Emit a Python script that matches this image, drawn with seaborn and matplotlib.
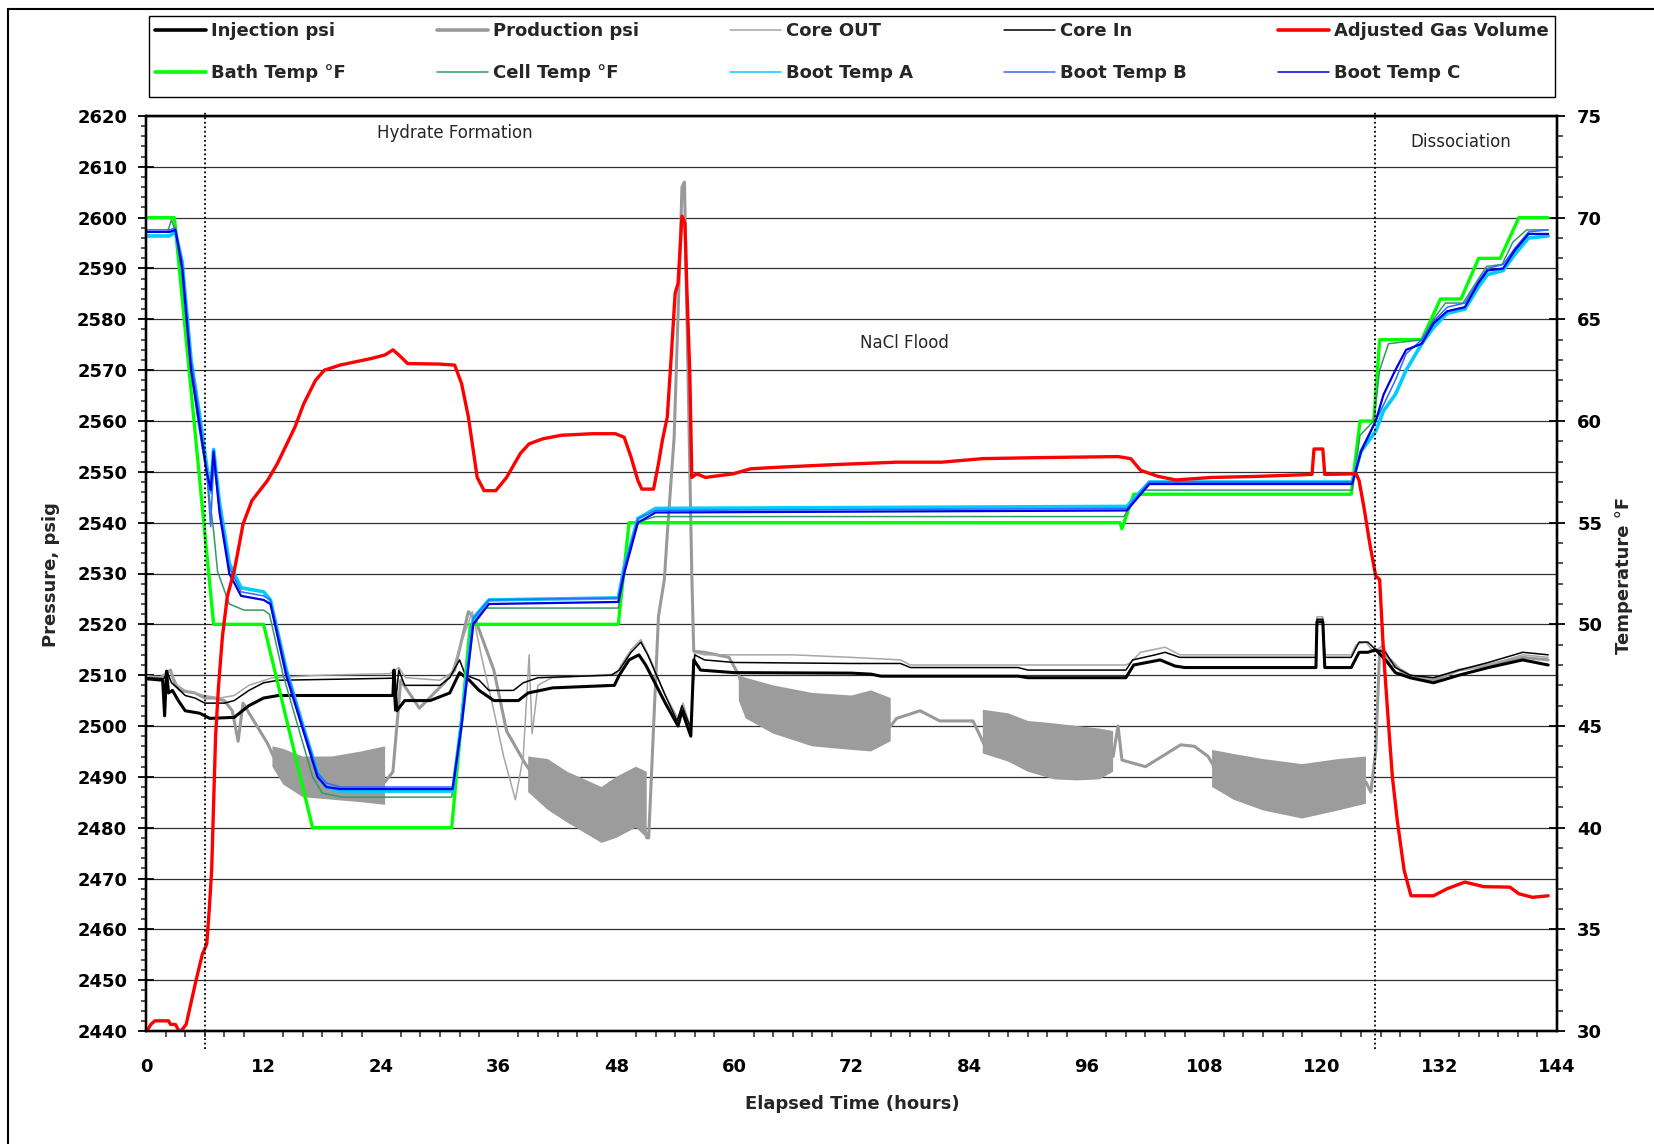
import numpy as np
import matplotlib
matplotlib.use("Agg")
import matplotlib.pyplot as plt
import seaborn as sns
from matplotlib.lines import Line2D
from matplotlib.patches import Rectangle
from matplotlib.ticker import MultipleLocator

# ---------------- data ----------------
# pressures in psig, temperatures in deg F, time in hours

inj_t = [0, 1.7, 1.9, 2.1, 2.3, 2.7, 3.3, 4, 5.5, 6.5, 9, 10.5, 12, 13.5, 25.2, 25.3, 25.6, 26.4, 29, 31,
         32, 33, 34, 35.5, 38, 39, 41.5, 47.8, 48.3, 49.3, 50.3, 51, 53, 54.3, 54.7, 55.6, 55.9, 56.6, 60,
         72, 74, 75, 89, 90, 100, 100.8, 103.5, 105, 106, 119.4, 119.5, 120.1, 120.3, 123, 123.8, 124.7,
         125.5, 126.5, 127.5, 129, 131.4, 134, 137, 140.5, 143.1]
inj_p = [2509.3, 2509, 2502, 2510.8, 2506.5, 2507, 2505, 2503, 2502.5, 2501.5, 2501.7, 2504, 2505.5, 2506,
         2506, 2511, 2503, 2505, 2505, 2506.5, 2510.5, 2509, 2507, 2505, 2505, 2506.5, 2507.5, 2508, 2510,
         2513, 2514, 2512, 2504.5, 2500, 2503, 2498, 2513, 2511, 2510.5, 2510.4, 2510.2, 2509.8, 2509.8,
         2509.5, 2509.5, 2512, 2513, 2511.8, 2511.5, 2511.5, 2520.5, 2520.5, 2511.5, 2511.5, 2514.5, 2514.5,
         2515, 2513, 2510.5, 2509.5, 2508.5, 2510, 2511.5, 2513, 2512]

prod_t = [0, 1.5, 2.5, 3.0, 3.5, 5, 6, 7, 8, 8.8, 9.4, 9.9, 11, 12.4, 13, 16, 20, 23, 24.4, 25.2, 26.0,
          27.9, 30.4, 31.5, 32.9, 33.6, 35.5, 36.8, 38.7, 40, 43, 46.5, 49, 50.7, 51.1, 51.3, 52.3, 52.9,
          53.2, 53.9, 54.3, 54.7, 54.95, 55.7, 55.9, 57, 59.5, 60.5, 61.2, 66, 72, 76, 76.6, 79, 81, 84.4,
          85.8, 88, 92.7, 97.3, 98.7, 99.2, 99.6, 102, 105.6, 107, 108.4, 109, 113, 118, 121.7, 124.5,
          125.0, 125.5, 125.9, 126.5, 127.5, 128.5, 131.4, 134, 137, 140.5, 143.1]
prod_p = [2509.7, 2509.5, 2511, 2508, 2507, 2506.5, 2505.5, 2505.5, 2505, 2503, 2497, 2504.5, 2501, 2496.6,
          2494, 2490, 2489.5, 2489, 2489, 2491, 2509, 2503.5, 2508.4, 2511, 2522.5, 2521, 2511, 2499,
          2492.6, 2489, 2485, 2481, 2482, 2482, 2478, 2478, 2521.6, 2528.8, 2537.8, 2556.8, 2581, 2606,
          2607, 2530, 2514.7, 2514.5, 2513.5, 2510, 2505.5, 2503, 2500.5, 2500, 2501.5, 2503, 2501, 2501,
          2495.3, 2497, 2494, 2493, 2494, 2500, 2493.3, 2492, 2496.3, 2496, 2494, 2492, 2489, 2487, 2488,
          2489, 2487, 2495, 2515, 2514, 2512, 2510, 2509, 2511, 2512, 2513.5, 2513]

# envelope of the oscillating production pressure (NaN separates the bursts)
osc_t = [12.9, 14, 16, 19, 22, 24.4, np.nan,
         39, 41, 43, 46.5, 48, 50, 51.1, np.nan,
         60.5, 61.2, 64, 68, 72, 74, 76, np.nan,
         85.4, 88, 90, 92.7, 95, 97.3, 98.7, np.nan,
         108.8, 111, 114, 118, 121.7, 124.5]
osc_hi = [2496, 2495.5, 2494, 2494, 2495, 2496, np.nan,
          2494, 2493.5, 2491, 2488, 2490, 2492, 2491, np.nan,
          2510, 2509.5, 2508, 2506.5, 2506, 2507, 2505.5, np.nan,
          2503.2, 2502.5, 2501, 2500.5, 2500, 2499.5, 2499, np.nan,
          2495.3, 2494.5, 2493.5, 2492.5, 2493.5, 2494]
osc_lo = [2492, 2488.5, 2486, 2485.5, 2485, 2484.5, np.nan,
          2487, 2483.5, 2481, 2477, 2478, 2480, 2478, np.nan,
          2505, 2501.5, 2498.5, 2496, 2495.3, 2495, 2497, np.nan,
          2494.6, 2493, 2491, 2489.5, 2489.3, 2489.5, 2491, np.nan,
          2488, 2485.5, 2483.4, 2481.8, 2483.4, 2484.7]

out_t = [0, 1.8, 2.5, 3.2, 4, 6, 7.5, 9, 10.5, 12.9, 18, 24.9, 25.8, 26.5, 30, 31.2, 32.3, 33.3, 34.2,
         35.5, 36.5, 37.7, 38.5, 39.1, 39.4, 40.0, 41.4, 48, 48.5, 49.5, 50.5, 51.5, 53, 54.3, 54.8, 55.6,
         56, 57, 60, 66, 72, 77, 78, 85, 100, 100.5, 101.5, 104, 105.5, 119.4, 119.5, 120.1, 120.3, 123,
         123.5, 124.5, 125.3, 126.3, 127, 128.3, 129.6, 131.4, 134, 137, 140.5, 143.1]
out_p = [2509.8, 2509.6, 2510.8, 2508, 2507, 2506, 2505.5, 2506, 2508, 2509.5, 2510, 2510.3, 2511.5, 2509.5,
         2509, 2510.5, 2517, 2522.5, 2514, 2503, 2494, 2485.5, 2494, 2514, 2498.5, 2508, 2509.5, 2510.2,
         2512, 2515, 2517, 2513, 2506, 2501.5, 2504.5, 2499.5, 2514.5, 2514, 2514, 2514, 2513.5, 2513, 2512,
         2512, 2512, 2512.5, 2514.5, 2515.5, 2514, 2514, 2521.5, 2521.5, 2514, 2514, 2516, 2516.5, 2514.5,
         2516, 2512, 2511, 2509.3, 2509.5, 2511, 2512, 2514, 2513.5]

in_t = [0, 1.8, 2.2, 2.6, 3.2, 4, 5, 6, 8, 9, 10.5, 12, 13.5, 25.2, 25.4, 25.8, 26.4, 30, 31, 32, 32.6, 34,
        35, 37.5, 38.5, 40, 47.5, 48.3, 49.5, 50.5, 51.2, 53, 54.2, 54.7, 55.6, 56, 57, 60, 72, 77, 78, 89,
        90, 100, 100.7, 103, 104, 105.5, 119.4, 119.5, 120.1, 120.3, 123, 123.8, 124.7, 125.5, 126.5, 127.5,
        129, 131.4, 134, 137, 140.5, 143.1]
in_p = [2509.5, 2509.3, 2510.5, 2508.5, 2507.5, 2506, 2505.5, 2504.5, 2504.5, 2505, 2507, 2508.5, 2509,
        2509.4, 2503, 2511, 2508, 2508, 2509.5, 2513, 2510, 2509, 2507, 2507, 2508.5, 2509.5, 2510, 2511,
        2514.5, 2516.5, 2514, 2506, 2501, 2504, 2499.5, 2514, 2513, 2512.5, 2512.3, 2512.3, 2511.5, 2511.5,
        2511, 2511, 2513, 2514, 2514.5, 2513.5, 2513.5, 2521, 2521, 2513.5, 2513.5, 2516.5, 2516.5, 2515,
        2514.5, 2511.5, 2510, 2509.5, 2511, 2512.5, 2514.5, 2514]

gas_t = [0, 0.5, 0.9, 2.3, 2.5, 3.0, 3.45, 4.1, 5.1, 5.75, 6.2, 6.45, 6.7, 6.9, 7.1, 7.4, 7.8, 8.3, 9.0,
         9.4, 9.9, 10.8, 12.4, 13.4, 15.2, 16.1, 17.3, 18.2, 19.8, 23.0, 24.4, 25.2, 25.8, 26.7, 29.9, 31.5,
         32.2, 32.9, 33.4, 33.8, 34.5, 35.7, 36.8, 38.2, 39.1, 40.5, 42.4, 45.6, 47.9, 48.8, 49.5, 50.2,
         50.6, 51.8, 52.3, 52.7, 53.2, 53.6, 54.0, 54.3, 54.7, 55.0, 55.2, 55.5, 55.7, 56.2, 57.1, 59.9,
         61.7, 64.5, 70.0, 76.6, 81.2, 85.4, 91.3, 99.2, 100.5, 101.5, 103.3, 105.1, 108.8, 113.4, 119.0,
         119.2, 120.1, 120.3, 123.5, 123.8, 124.3, 124.9, 125.5, 125.9, 126.3, 126.8, 127.2, 127.7, 128.4,
         129.1, 131.4, 132.8, 134.6, 136.5, 139.2, 140.1, 141.5, 143.1]
gas_v = [2439.7, 2441.3, 2442, 2442, 2441.3, 2441.3, 2439.7, 2441.3, 2449.9, 2455.1, 2457.1, 2463.7, 2471.6,
         2484.7, 2497.9, 2507.8, 2517.6, 2525.5, 2530.5, 2534.5, 2539.7, 2544.3, 2548.3, 2551.6, 2558.8,
         2563.4, 2568, 2570, 2571, 2572.3, 2573, 2574, 2573, 2571.3, 2571.2, 2571, 2567.4, 2560.8, 2554.2,
         2548.9, 2546.3, 2546.3, 2548.9, 2553.6, 2555.5, 2556.5, 2557.2, 2557.5, 2557.5, 2556.8, 2552.9,
         2548.3, 2546.6, 2546.6, 2551.6, 2556.2, 2560.8, 2572.6, 2585.1, 2587.1, 2600.3, 2598.9, 2585.8,
         2569.3, 2548.9, 2549.6, 2548.9, 2549.6, 2550.6, 2550.9, 2551.4, 2551.9, 2551.9, 2552.6, 2552.8,
         2553, 2552.6, 2550.3, 2549.1, 2548.4, 2548.9, 2549.1, 2549.5, 2554.5, 2554.5, 2549.5, 2549.6,
         2548.3, 2543, 2535.8, 2529.5, 2528.8, 2514.3, 2500.5, 2490, 2481.4, 2471.6, 2466.6, 2466.6, 2468,
         2469.3, 2468.4, 2468.3, 2467, 2466.3, 2466.6]

bath_t = [0, 2.9, 6.9, 12.0, 17.0, 31.2, 33.1, 48.2, 49.3, 99.4, 99.6, 100.8, 123.0, 123.9, 125.3, 125.9,
          130.2, 132.1, 134.2, 136.0, 138.2, 140.1, 143.1]
bath_T = [70, 70, 50, 50, 40, 40, 50, 50, 55, 55, 54.7, 56.4, 56.4, 60, 60, 64, 64, 66, 66, 68, 68, 70, 70]

cell_t = [0, 2.2, 2.6, 3.0, 3.6, 4.5, 5.3, 6.2, 6.9, 7.3, 8.5, 10, 12.0, 12.6, 14, 15.5, 17, 18, 20, 31.2,
          32.2, 33.2, 34.5, 48.2, 48.8, 50, 52, 99.8, 101.5, 123.1, 123.9, 125.3, 125.9, 126.8, 130.2,
          131.4, 132.6, 134.4, 136.0, 136.8, 138.4, 139.5, 140.9, 143.1]
cell_T = [69.3, 69.3, 69.9, 69.3, 67.5, 63, 60, 57.3, 54.6, 52.6, 51.0, 50.7, 50.7, 50.5, 47.5, 45, 42.5,
          41.7, 41.5, 41.5, 45, 50, 50.8, 50.8, 52.5, 55, 55.3, 55.3, 56.6, 56.6, 59.3, 60, 62.5, 63.8, 64.0,
          65, 65.8, 65.8, 67, 67.6, 67.7, 68.8, 69.4, 69.4]

boot_t = [0, 2.4, 3.0, 3.7, 4.6, 5.4, 6.2, 6.6, 6.9, 7.5, 8.5, 9.7, 12.0, 12.7, 14.3, 15.9, 17.5, 18.4,
          19.8, 31.3, 32.2, 33.4, 35.0, 48.2, 48.8, 50.2, 52.0, 100.1, 102.4, 123.1, 124.0, 125.5, 126.3,
          127.5, 128.6, 130.2, 131.4, 132.8, 134.6, 136.0, 136.9, 138.5, 139.7, 141.1, 143.1]
bootA_T = [69.1, 69.1, 69.3, 67.8, 63, 60.5, 57.8, 56.5, 58.6, 56, 53, 51.8, 51.6, 51.2, 47.8, 45.2, 42.7,
           42.0, 41.8, 41.8, 45.2, 50.3, 51.2, 51.3, 52.8, 55.2, 55.7, 55.8, 57.0, 57.0, 58.5, 59.5, 60.5,
           61.3, 62.5, 63.8, 64.6, 65.3, 65.5, 66.6, 67.2, 67.4, 68.2, 69.0, 69.1]
bootB_T = [69.4, 69.4, 69.5, 67.8, 63, 60.5, 57.5, 54.8, 58, 55.8, 52.8, 51.6, 51.4, 51.2, 47.8, 45.2,
           42.7, 42.2, 42.0, 42.0, 45.2, 50.3, 51.2, 51.3, 52.8, 55.2, 55.6, 55.7, 57.0, 57.0, 58.6, 60.0,
           60.8, 62.0, 63.3, 64.0, 64.9, 65.6, 65.8, 66.9, 67.5, 67.7, 68.5, 69.3, 69.4]
bootC_T = [69.3, 69.3, 69.4, 67.5, 62.5, 60, 57.5, 56.6, 58.5, 55.5, 52.5, 51.4, 51.2, 51.0, 47.5, 45,
           42.5, 42.0, 41.9, 41.9, 45, 50, 51.0, 51.1, 52.5, 55, 55.5, 55.6, 56.9, 56.9, 58.5, 60, 61.3,
           62.5, 63.5, 63.8, 64.8, 65.4, 65.6, 66.8, 67.4, 67.5, 68.4, 69.2, 69.2]

phase_bounds = [6.0, 125.4]
phase_names = ["Hydrate Formation", "NaCl Flood", "Dissociation"]

# ---------------- figure ----------------
sns.set_theme(style="white")
plt.rcParams['font.family'] = ['DejaVu Sans']

W, H = 1654, 1144
fig = plt.figure(figsize=(W / 100, H / 100), dpi=100)
x0, x1, y0, y1 = 146, 1557, 116, 1031
ax = fig.add_axes([x0 / W, 1 - y1 / H, (x1 - x0) / W, (y1 - y0) / H])
ax2 = ax.twinx()   # temperature
ax3 = ax.twinx()   # gas volume + markers, drawn on top


def draw(a, t, v, color, lw, z=2):
    sns.lineplot(x=t, y=v, ax=a, color=color, linewidth=lw, estimator=None,
                 sort=False, legend=False, zorder=z)


c_prod = "#999999"
draw(ax, prod_t, prod_p, c_prod, 2.2)
ax.fill_between(osc_t, osc_lo, osc_hi, color="#9c9c9c", lw=0, zorder=2.5)
draw(ax, out_t, out_p, "#A6A6A6", 1.1, z=3)
draw(ax, inj_t, inj_p, "black", 2.2, z=3)
draw(ax, in_t, in_p, "black", 1.1, z=3)

draw(ax2, bath_t, bath_T, "#00FF00", 2.4)
draw(ax2, cell_t, cell_T, "#339966", 1.1)
draw(ax2, boot_t, bootA_T, "#00CCFF", 2.6)
draw(ax2, boot_t, bootB_T, "#3366FF", 1.1)
draw(ax2, boot_t, bootC_T, "#0000E6", 1.6)

draw(ax3, gas_t, gas_v, "#FF0000", 2.4)
for b in phase_bounds:
    ax3.axvline(b, ymin=-0.02, ymax=1.004, color="black", lw=1.3, ls=(0, (1, 1.5)), clip_on=False)

# axes limits / ticks
for a in (ax, ax3):
    a.set_ylim(2440, 2620)
ax2.set_ylim(30, 75)
ax.set_xlim(0, 144)

ax.xaxis.set_major_locator(MultipleLocator(12))
ax.xaxis.set_minor_locator(MultipleLocator(2))
ax.yaxis.set_major_locator(MultipleLocator(10))
ax.yaxis.set_minor_locator(MultipleLocator(2))
ax2.yaxis.set_major_locator(MultipleLocator(5))
ax2.yaxis.set_minor_locator(MultipleLocator(1))

tick_font = dict(labelsize=13, width=1.3, color="black", labelcolor="black")
ax.tick_params(axis="x", which="major", direction="inout", length=11, pad=14, **tick_font)
ax.tick_params(axis="x", which="minor", direction="out", length=4, width=1.1, bottom=True)
ax.tick_params(axis="y", which="major", direction="inout", length=11, pad=8, left=True, **tick_font)
ax.tick_params(axis="y", which="minor", direction="out", length=3.5, width=1.1, left=True)
ax2.tick_params(axis="y", which="major", direction="inout", length=11, pad=9, right=True, **tick_font)
ax2.tick_params(axis="y", which="minor", direction="out", length=4, width=1.1, right=True)
for lab in ax.get_xticklabels() + ax.get_yticklabels() + ax2.get_yticklabels():
    lab.set_fontweight("bold")

ax3.set_yticks([])
ax3.tick_params(right=False, labelright=False)
for a in (ax2, ax3):
    a.set_xlim(0, 144)

ax.grid(True, which="major", axis="y", color="#303030", lw=0.9)
ax.set_axisbelow(True)
for a in (ax, ax2, ax3):
    for s in a.spines.values():
        s.set_color("black")
        s.set_linewidth(1.6)

ax.set_xlabel("")
ax.set_ylabel("")
ax2.set_ylabel("")
ax3.set_ylabel("")

fig.text(51 / W, 1 - 575 / H, "Pressure, psig", rotation=90, ha="center", va="center",
         fontsize=13, fontweight="bold")
fig.text(1624 / W, 1 - 575 / H, "Temperature °F", rotation=90, ha="center", va="center",
         fontsize=13, fontweight="bold")
fig.text(852 / W, 1 - 1104 / H, "Elapsed Time (hours)", ha="center", va="center",
         fontsize=13, fontweight="bold")

ax.text(31.5, 2616.7, phase_names[0], ha="center", va="center", fontsize=12)
ax.text(77.4, 2575.4, phase_names[1], ha="center", va="center", fontsize=12)
ax.text(134.2, 2614.8, phase_names[2], ha="center", va="center", fontsize=12)

# legend (column-major order so the rows read like the original)
entries = [("Injection psi", "black", 2.6), ("Bath Temp °F", "#00FF00", 2.6),
           ("Production psi", c_prod, 2.6), ("Cell Temp °F", "#339966", 1.1),
           ("Core OUT", "#A6A6A6", 1.1), ("Boot Temp A", "#00CCFF", 1.1),
           ("Core In", "black", 1.1), ("Boot Temp B", "#3366FF", 1.1),
           ("Adjusted Gas Volume", "#FF0000", 2.6), ("Boot Temp C", "#0000E6", 1.1)]
handles = [Line2D([], [], color=c, lw=lw) for _, c, lw in entries]
labels = [n for n, _, _ in entries]
lx0, lx1, ly0, ly1 = 149, 1555, 16, 97
fig.legend(handles, labels, ncol=5, loc="upper left", mode="expand",
           bbox_to_anchor=(lx0 / W, 1 - ly1 / H, (lx1 - lx0) / W, (ly1 - ly0) / H),
           prop=dict(size=13, weight="bold"), frameon=False,
           handlelength=2.8, handletextpad=0.3, labelspacing=1.33, borderpad=0.35,
           columnspacing=1.0, borderaxespad=0)
fig.patches.append(Rectangle((lx0 / W, 1 - ly1 / H), (lx1 - lx0) / W, (ly1 - ly0) / H,
                             transform=fig.transFigure, fill=False, edgecolor="black", lw=1.0))

fig.patches.append(Rectangle((8 / W, -0.05), 1.2, 1 - 9 / H + 0.05, transform=fig.transFigure,
                             fill=False, edgecolor="black", lw=1.5))

fig.savefig("out.png", dpi=100, facecolor="white")
